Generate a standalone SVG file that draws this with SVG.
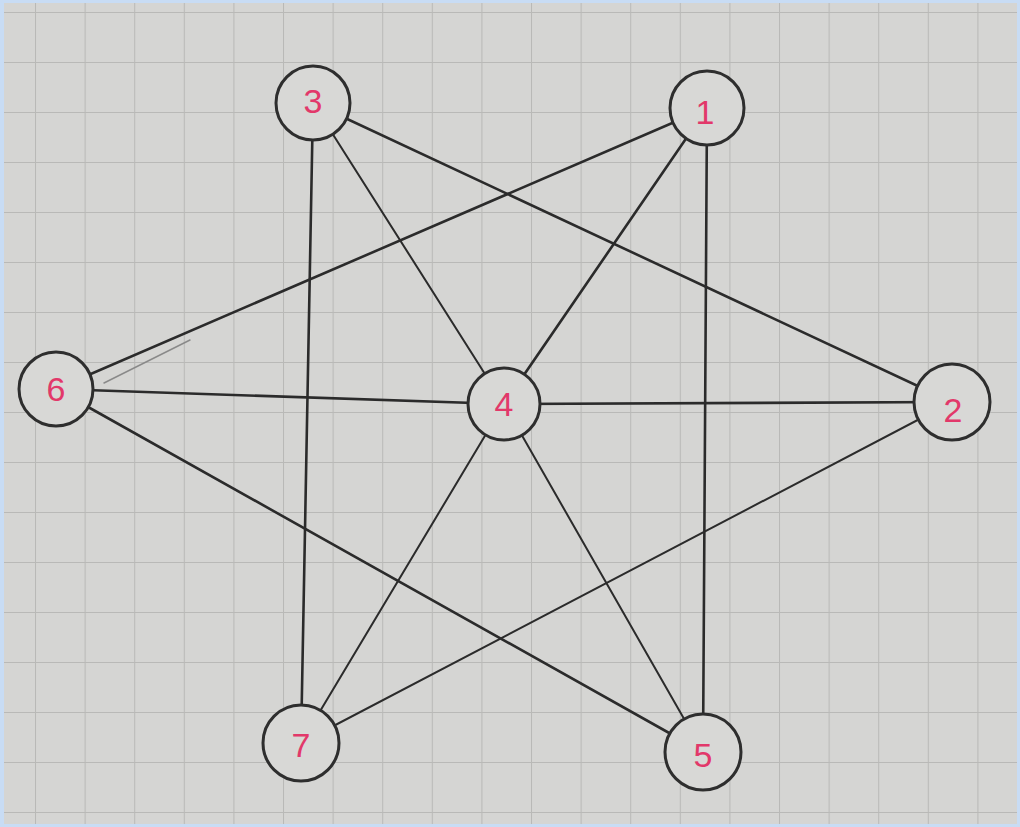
<svg xmlns="http://www.w3.org/2000/svg" width="1020" height="827" viewBox="0 0 1020 827">
  <defs>
    <pattern id="grid" x="35" y="12" width="49.6" height="50" patternUnits="userSpaceOnUse">
      <rect width="49.6" height="50" fill="#d5d5d3"/>
      <path d="M0 0 V50 M0 0 H49.6" stroke="#b9b9b7" stroke-width="2" fill="none"/>
    </pattern>
    <style>
      .edge { stroke: #2b2b2b; stroke-width: 2.6; stroke-linecap: round; fill: none; }
      .thin { stroke-width: 2; }
      .node circle { fill: #d8d8d6; stroke: #2e2e2e; stroke-width: 3; }
      .node text { font-family: "Liberation Sans", "DejaVu Sans", sans-serif; font-size: 34px; fill: #e2386a; text-anchor: middle; dominant-baseline: central; }
    </style>
  </defs>
  <rect x="0" y="0" width="1020" height="827" fill="#c8dcf4"/>
  <rect x="4" y="3" width="1013" height="821" fill="url(#grid)"/>

  <g id="connectors">
    <line class="edge" x1="313" y1="103" x2="952" y2="402"/>
    <line class="edge thin" x1="313" y1="103" x2="504" y2="404"/>
    <line class="edge" x1="313" y1="103" x2="301" y2="743"/>
    <line class="edge" x1="707" y1="108" x2="56" y2="389"/>
    <line class="edge" x1="707" y1="108" x2="504" y2="404"/>
    <line class="edge" x1="707" y1="108" x2="703" y2="752"/>
    <line class="edge" x1="56" y1="389" x2="504" y2="404"/>
    <line class="edge" x1="504" y1="404" x2="952" y2="402"/>
    <line class="edge" x1="56" y1="389" x2="703" y2="752"/>
    <line class="edge thin" x1="504" y1="404" x2="301" y2="743"/>
    <line class="edge thin" x1="504" y1="404" x2="703" y2="752"/>
    <line class="edge thin" x1="301" y1="743" x2="952" y2="402"/>
    <line x1="104" y1="383" x2="190" y2="340" stroke="#8a8a8a" stroke-width="1.5" stroke-linecap="round"/>
  </g>

  <g id="node-3" class="node"><circle cx="313" cy="103" r="37"/><text x="313" y="101">3</text></g>
  <g id="node-1" class="node"><circle cx="707" cy="108" r="37"/><text x="705" y="112">1</text></g>
  <g id="node-6" class="node"><circle cx="56" cy="389" r="37"/><text x="56" y="389">6</text></g>
  <g id="node-4" class="node"><circle cx="504" cy="404" r="36"/><text x="504" y="404">4</text></g>
  <g id="node-2" class="node"><circle cx="952" cy="402" r="38"/><text x="953" y="410">2</text></g>
  <g id="node-7" class="node"><circle cx="301" cy="743" r="38"/><text x="301" y="745">7</text></g>
  <g id="node-5" class="node"><circle cx="703" cy="752" r="38"/><text x="703" y="755">5</text></g>
</svg>
